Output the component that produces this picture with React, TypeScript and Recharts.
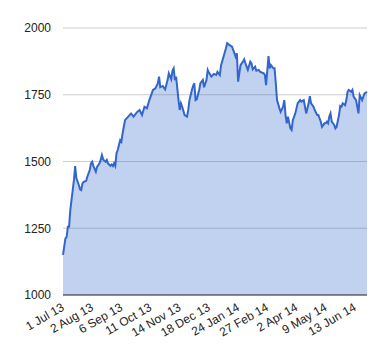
import React from "react";
import { AreaChart, Area, XAxis, YAxis, CartesianGrid } from "recharts";

const dayIndex = [0,2,3,4,5,6,7,8,9,10,11,13,14,15,16,17,19,20,22,23,24,25,27,28,30,31,32,33,35,36,37,39,40,41,42,43,44,45,46,47,48,49,50,51,54,56,58,61,63,65,67,69,71,73,74,76,78,79,80,82,84,86,87,89,90,91,92,93,95,96,97,98,100,102,103,104,106,107,108,109,110,112,113,115,116,118,119,120,122,124,126,127,129,130,132,134,135,137,139,141,142,143,144,146,148,149,151,152,154,155,156,158,159,161,162,165,166,167,169,170,171,173,174,175,176,178,179,181,182,183,184,185,187,188,189,191,192,193,195,196,198,199,200,202,203,204,206,207,209,210,211,212,213,215,216,217,218,219,220,221,223,224,225,227,228,229,230,232,233,234,235,237,238,239,241,242,243,244,246,247,248,250];

const values = [1150,1212,1218,1256,1256,1318,1356,1393,1431,1483,1437,1412,1396,1393,1418,1424,1427,1443,1468,1493,1499,1483,1462,1480,1493,1506,1524,1508,1499,1506,1493,1484,1489,1483,1493,1483,1531,1543,1562,1580,1574,1605,1630,1655,1670,1680,1668,1686,1693,1674,1705,1699,1730,1755,1768,1774,1793,1818,1778,1783,1770,1805,1830,1808,1840,1849,1805,1818,1730,1693,1718,1705,1674,1668,1693,1730,1768,1783,1793,1730,1733,1768,1793,1805,1778,1805,1843,1833,1818,1828,1824,1836,1824,1861,1892,1924,1943,1936,1930,1905,1892,1905,1799,1861,1874,1883,1855,1843,1874,1868,1845,1855,1840,1843,1836,1830,1824,1786,1895,1849,1861,1849,1849,1793,1730,1699,1686,1705,1730,1674,1643,1668,1624,1618,1655,1680,1699,1718,1730,1724,1730,1705,1680,1718,1745,1718,1705,1693,1674,1674,1662,1649,1630,1643,1643,1649,1643,1668,1680,1649,1637,1624,1630,1674,1708,1705,1718,1711,1730,1761,1768,1761,1768,1743,1730,1705,1680,1749,1730,1743,1755,1761];

const tickIndex = [0, 24, 48, 72, 96, 120, 144, 168, 192, 216, 240];
const tickLabels = ["1 Jul 13", "2 Aug 13", "6 Sep 13", "11 Oct 13", "14 Nov 13", "18 Dec 13", "24 Jan 14", "27 Feb 14", "2 Apr 14", "9 May 14", "13 Jun 14"];
const yTicks = [1000, 1250, 1500, 1750, 2000];

const data = dayIndex.map((d, i) => ({ day: d, value: values[i] }));

const FONT = "Arial, 'Liberation Sans', sans-serif";

const XTick = (props: any) => {
  const { x, y, payload } = props;
  const idx = tickIndex.indexOf(payload.value);
  return (
    <g transform={`translate(${x},${y})`}>
      <text
        x={0}
        y={0}
        dy="0.35em"
        textAnchor="end"
        transform="rotate(-30)"
        fontSize={12}
        fontFamily={FONT}
        fill="#222"
      >
        {idx >= 0 ? tickLabels[idx] : ""}
      </text>
    </g>
  );
};

export default function App() {
  return (
    <div style={{ position: "absolute", left: 0, top: 0, width: 380, height: 360, background: "#fff" }}>
      <AreaChart width={380} height={360} data={data} margin={{ top: 28, right: 13, left: 0, bottom: 5 }}>
        <CartesianGrid horizontal={true} vertical={false} stroke="#cccccc" />
        <XAxis
          dataKey="day"
          type="number"
          domain={[0, 250]}
          ticks={tickIndex}
          interval={0}
          tick={<XTick />}
          tickLine={false}
          axisLine={{ stroke: "#333333", strokeWidth: 1 }}
          height={60}
          tickMargin={7}
          tickSize={4}
        />
        <YAxis
          type="number"
          domain={[1000, 2000]}
          ticks={yTicks}
          interval={0}
          width={63}
          axisLine={false}
          tickLine={false}
          tickSize={6}
          tickMargin={6}
          tick={{ fontSize: 12, fontFamily: FONT, fill: "#222" }}
        />
        <Area
          type="linear"
          dataKey="value"
          stroke="#3366cc"
          strokeWidth={2}
          fill="#3366cc"
          fillOpacity={0.3}
          isAnimationActive={false}
          dot={false}
          activeDot={false}
          baseValue={1000}
        />
      </AreaChart>
    </div>
  );
}
